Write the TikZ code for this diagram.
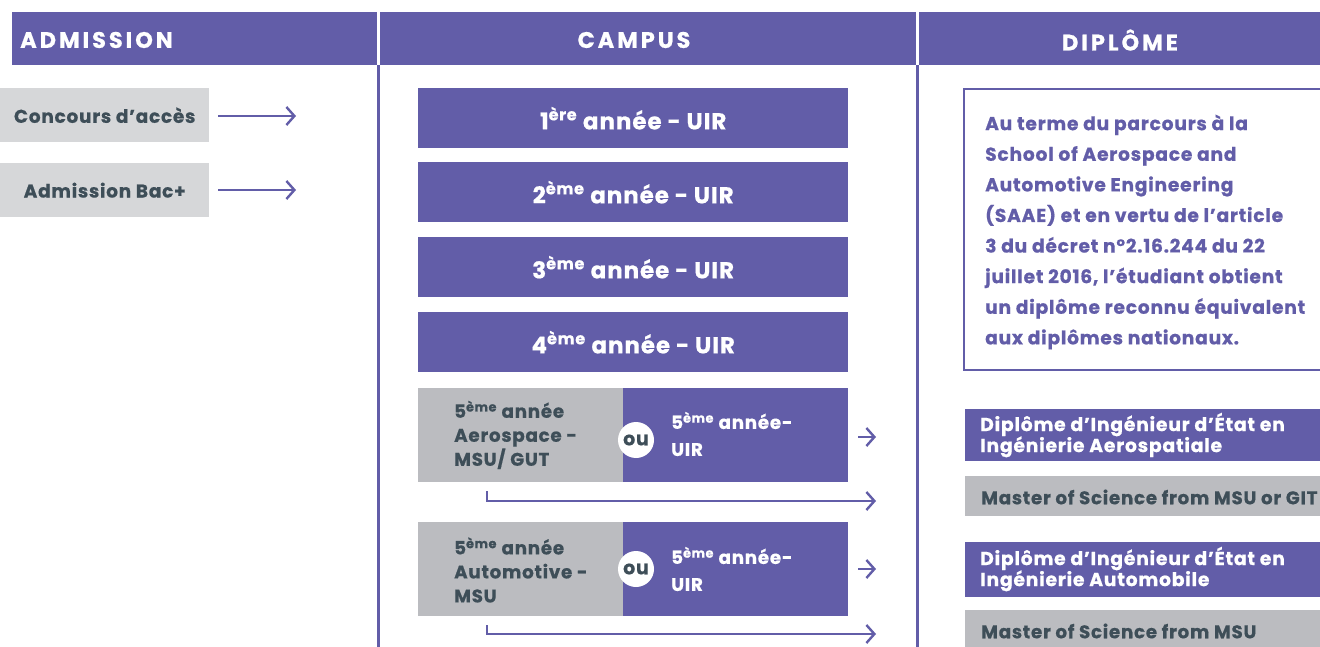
\documentclass[tikz,border=0pt]{standalone}
\usepackage{fontspec}
\setmainfont{Poppins}[LetterSpace=4, BoldFeatures={FakeBold=0.6}]
\usetikzlibrary{arrows.meta}
\definecolor{uirpurple}{RGB}{98,93,168}
\definecolor{lightgray}{RGB}{214,215,217}
\definecolor{midgray}{RGB}{187,188,192}
\definecolor{darktext}{RGB}{62,78,88}
\tikzset{
  hdr/.style={fill=uirpurple, draw=none, inner sep=0pt},
  hdrtext/.style={text=white, font=\fontsize{22.5}{24}\selectfont\bfseries\addfontfeatures{LetterSpace=13}},
  admbox/.style={fill=lightgray, inner sep=0pt, minimum width=209pt, minimum height=54pt, anchor=north west, text=darktext, font=\fontsize{18.5}{20}\selectfont\bfseries},
  yearbox/.style={fill=uirpurple, inner sep=0pt, minimum width=430pt, minimum height=60pt, anchor=north west, text=white, font=\fontsize{23}{24}\selectfont\bfseries},
  grayhalf/.style={fill=midgray, inner sep=0pt, minimum width=205pt, minimum height=94pt, anchor=north west},
  purphalf/.style={fill=uirpurple, inner sep=0pt, minimum width=225pt, minimum height=94pt, anchor=north west},
  graytxt/.style={anchor=west, align=left, inner sep=0pt, text=darktext, font=\fontsize{18.3}{24}\selectfont\bfseries},
  whitetxt/.style={anchor=west, align=left, inner sep=0pt, text=white, font=\fontsize{18.3}{27}\selectfont\bfseries},
  oucircle/.style={circle, fill=white, minimum size=36pt, inner sep=0pt, text=darktext, font=\fontsize{19}{20}\selectfont\bfseries},
  dipbox/.style={fill=uirpurple, inner sep=0pt, anchor=north west, minimum width=360pt, text=white},
  mscbox/.style={fill=midgray, inner sep=0pt, anchor=north west, minimum width=360pt},
  diptxt/.style={anchor=west, align=left, inner sep=0pt, text=white, font=\fontsize{18.8}{21}\selectfont\bfseries},
  msctxt/.style={anchor=west, inner sep=0pt, text=darktext, font=\fontsize{18.3}{20}\selectfont\bfseries},
  conn/.style={draw=uirpurple, line width=2.6pt, -{Straight Barb[length=8pt, width=18pt, line width=2.4pt]}},
  vline/.style={draw=uirpurple, line width=2.5pt},
}
\begin{document}
\begin{tikzpicture}[x=1pt, y=-1pt]
\useasboundingbox (0,0) rectangle (1320,647);
% headers
\fill[hdr] (12,12) rectangle (377,65);
\fill[hdr] (380,12) rectangle (916,65);
\fill[hdr] (919,12) rectangle (1320,65);
\node[hdrtext, anchor=west, inner sep=0pt] (hA) at (20,40) {ADMISSION};
\node[hdrtext, inner sep=0pt] (hC) at (634,40) {CAMPUS};
\node[hdrtext, inner sep=0pt] (hD) at (1120,40) {DIPLÔME};
% vertical separators
\draw[vline] (378.5,65) -- (378.5,647);
\draw[vline] (917.5,65) -- (917.5,647);
% admission
\node[admbox] (adm1) at (0,88) {Concours d’accès};
\node[admbox] (adm2) at (0,163) {Admission Bac+};
\coordinate (a1s) at (218,116); \coordinate (a1e) at (296,116);
\coordinate (a2s) at (218,190); \coordinate (a2e) at (296,190);
\draw[conn] (a1s) -- (a1e);
\draw[conn] (a2s) -- (a2e);
% years
\node[yearbox] (y1) at (418,88) {1\textsuperscript{ère} année - UIR};
\node[yearbox] (y2) at (418,162) {2\textsuperscript{ème} année - UIR};
\node[yearbox] (y3) at (418,237) {3\textsuperscript{ème} année - UIR};
\node[yearbox] (y4) at (418,312) {4\textsuperscript{ème} année - UIR};
% 5th year aerospace
\node[grayhalf] (g5a) at (418,388) {};
\node[purphalf] (p5a) at (623,388) {};
\node[graytxt] (t5a) at (454,435) {5\textsuperscript{ème} année\\Aerospace -\\MSU/ GUT};
\node[whitetxt] (u5a) at (671,434) {5\textsuperscript{ème} année-\\UIR};
\node[oucircle] (ou1) at (636,440) {ou};
% 5th year automotive
\node[grayhalf] (g5b) at (418,522) {};
\node[purphalf] (p5b) at (623,522) {};
\node[graytxt] (t5b) at (454,570) {5\textsuperscript{ème} année\\Automotive -\\MSU};
\node[whitetxt] (u5b) at (671,569) {5\textsuperscript{ème} année-\\UIR};
\node[oucircle] (ou2) at (636,569) {ou};
% arrows 5th year
\coordinate (s1s) at (858,437); \coordinate (s1e) at (876,437);
\coordinate (s2s) at (858,569); \coordinate (s2e) at (876,569);
\draw[conn] (s1s) -- (s1e);
\draw[conn] (s2s) -- (s2e);
\coordinate (l1s) at (487,491); \coordinate (l1e) at (876,501);
\coordinate (l2s) at (487,625); \coordinate (l2e) at (876,634);
\draw[conn] (l1s) |- (l1e);
\draw[conn] (l2s) |- (l2e);
% description box
\draw[draw=uirpurple, line width=2.5pt] (1325,89) -- (964,89) -- (964,370) -- (1325,370);
\node[anchor=west, align=left, inner sep=0pt, text=uirpurple, font=\fontsize{18.7}{30.6}\selectfont\bfseries] (desc) at (985,232) {Au terme du parcours à la\\School of Aerospace and\\Automotive Engineering\\(SAAE) et en vertu de l’article\\3 du décret n°2.16.244 du 22\\juillet 2016, l’étudiant obtient\\un diplôme reconnu équivalent\\aux diplômes nationaux.};
% diplomas
\node[dipbox, minimum height=52pt] (d1) at (965,409) {};
\node[diptxt] (d1t) at (980,435) {Diplôme d’Ingénieur d’État en\\Ingénierie Aerospatiale};
\node[mscbox, minimum height=40pt] (m1) at (965,476) {};
\node[msctxt] (m1t) at (981,497) {Master of Science from MSU or GIT};
\node[dipbox, minimum height=55pt] (d2) at (965,542) {};
\node[diptxt] (d2t) at (980,569) {Diplôme d’Ingénieur d’État en\\Ingénierie Automobile};
\node[mscbox, minimum height=40pt] (m2) at (965,610) {};
\node[msctxt] (m2t) at (981,631) {Master of Science from MSU};
\end{tikzpicture}
\end{document}
